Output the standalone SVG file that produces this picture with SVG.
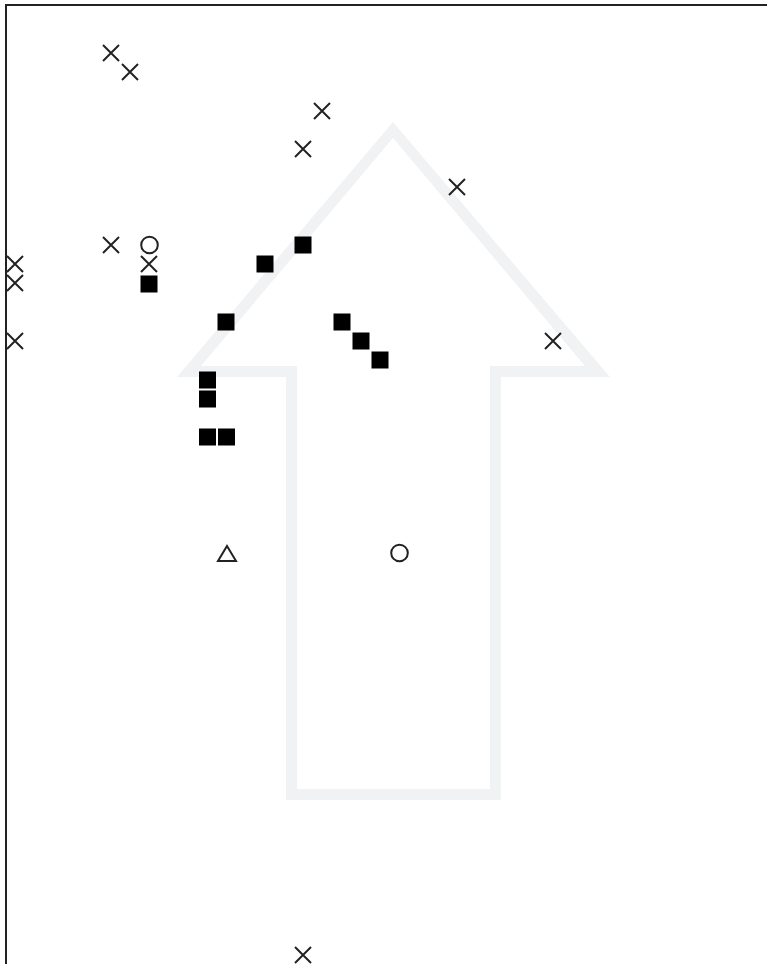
<svg xmlns="http://www.w3.org/2000/svg" width="767" height="964" viewBox="0 0 767 964">
<defs>
<style>
.x{stroke:#222;stroke-width:2;fill:none}
.o{stroke:#222;stroke-width:2;fill:none}
.sq{fill:#000}
.tri{stroke:#222;stroke-width:2;fill:none;stroke-linejoin:miter}
</style>
<symbol id="mx" overflow="visible"><path class="x" d="M-8,-8L8,8M-8,8L8,-8"/></symbol>
<symbol id="ms" overflow="visible"><rect class="sq" x="-8.5" y="-8.5" width="17" height="17"/></symbol>
<symbol id="mo" overflow="visible"><circle class="o" r="8.3"/></symbol>
</defs>
<rect width="767" height="964" fill="#fff"/>
<g id="arrow">
<path fill="#f1f2f4" fill-rule="evenodd" d="M393,122 L610,377 L501,377 L501,800 L286,800 L286,377 L177,377 Z M393,138 L201,366 L297,366 L297,789 L490,789 L490,366 L585,366 Z"/>
</g>
<g id="frame">
<path d="M6,964 V5 H767" fill="none" stroke="#222" stroke-width="2"/>
</g>
<g id="crosses">
<use href="#mx" x="111" y="53"/>
<use href="#mx" x="130" y="72"/>
<use href="#mx" x="322" y="111"/>
<use href="#mx" x="303" y="149"/>
<use href="#mx" x="457" y="187"/>
<use href="#mx" x="111" y="245"/>
<use href="#mx" x="149" y="264"/>
<use href="#mx" x="15" y="264"/>
<use href="#mx" x="15" y="283"/>
<use href="#mx" x="15" y="341"/>
<use href="#mx" x="553" y="341"/>
<use href="#mx" x="303" y="955"/>
</g>
<g id="circles">
<use href="#mo" x="149.5" y="245"/>
<use href="#mo" x="399.5" y="553"/>
</g>
<g id="triangle">
<path class="tri" d="M227,546 L236,561 L218,561 Z"/>
</g>
<g id="squares">
<use href="#ms" x="149" y="284"/>
<use href="#ms" x="265" y="264"/>
<use href="#ms" x="303" y="245"/>
<use href="#ms" x="226" y="322"/>
<use href="#ms" x="342" y="322"/>
<use href="#ms" x="361" y="341"/>
<use href="#ms" x="380" y="360"/>
<use href="#ms" x="207.5" y="380"/>
<use href="#ms" x="207.5" y="399"/>
<use href="#ms" x="207.5" y="437"/>
<use href="#ms" x="226.5" y="437"/>
</g>
</svg>
